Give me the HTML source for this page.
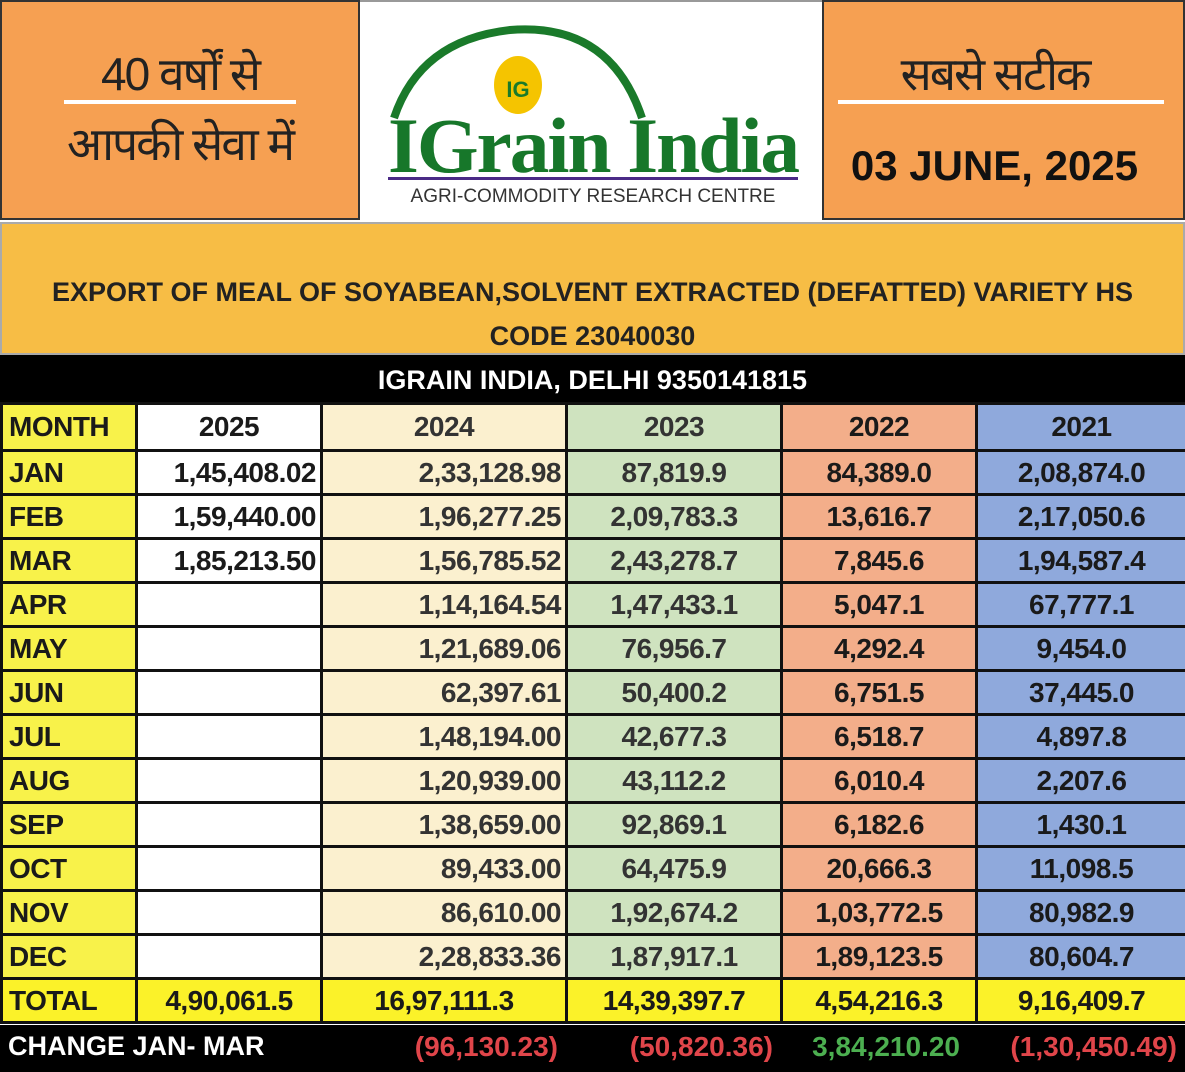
<!DOCTYPE html><html><head><meta charset="utf-8"><style>
body{margin:0;width:1185px;height:1072px;overflow:hidden;background:#fff;font-family:"Liberation Sans",sans-serif;position:relative}
.a{position:absolute}
table{position:absolute;left:0;top:402px;border-collapse:collapse;table-layout:fixed;width:1185px}
td{border:3px solid #111;height:41px;font-weight:bold;font-size:28px;padding:0 4px;white-space:nowrap;color:#1a1a1a;letter-spacing:-0.5px;box-sizing:border-box}
tr{height:44px}
tr.h{height:47px}
td.m{background:#f8f24a;text-align:left;padding-left:6px}
td.c5{background:#fff;text-align:right}
td.c4{background:#fbf0cf;text-align:right;color:#333}
td.c3{background:#cfe3bf;text-align:center;color:#333}
td.c2{background:#f3ae8a;text-align:center}
td.c1{background:#8fa9dc;text-align:center}
tr.h td{text-align:center}
tr.h td.m{text-align:left}
tr.t td{background:#fbf229;text-align:center}
tr.t td.m{text-align:left}
</style></head><body>
<div class="a" style="left:0;top:0;width:360px;height:220px;background:#f6a052;border:2px solid #333;box-sizing:border-box"></div>
<div class="a" style="left:360px;top:0;width:462px;height:220px;background:#fff;border-top:2px solid #999"></div>
<div class="a" style="left:822px;top:0;width:363px;height:220px;background:#f6a052;border:2px solid #333;box-sizing:border-box"></div>
<div class="a" style="left:60px;top:42px;width:240px;text-align:center;font-size:46px;color:#222;letter-spacing:-2px">40 वर्षों से</div>
<div class="a" style="left:64px;top:100px;width:232px;height:4px;background:#fff"></div>
<div class="a" style="left:55px;top:112px;width:250px;text-align:center;font-size:46px;color:#222;letter-spacing:-2px">आपकी सेवा में</div>
<div class="a" style="left:840px;top:42px;width:310px;text-align:center;font-size:46px;color:#222;letter-spacing:-2px">सबसे सटीक</div>
<div class="a" style="left:838px;top:100px;width:326px;height:4px;background:#fff"></div>
<div class="a" style="left:822px;top:142px;width:345px;text-align:center;font-size:42px;font-weight:bold;color:#111">03 JUNE, 2025</div>
<svg class="a" style="left:360px;top:0" width="462" height="220"><path d="M34 118 Q60 40 150 30 Q250 22 282 118" fill="none" stroke="#1a7a2a" stroke-width="8"/><ellipse cx="158" cy="85" rx="24" ry="29" fill="#f5c400"/><text x="158" y="97" text-anchor="middle" font-size="22" font-weight="bold" fill="#1a7a2a" font-family="Liberation Sans">IG</text>
<text x="233" y="172" text-anchor="middle" font-size="78" font-weight="bold" fill="#17772a" font-family="Liberation Serif" letter-spacing="-2" textLength="410" lengthAdjust="spacingAndGlyphs">IGrain India</text>
<rect x="28" y="177" width="410" height="3" fill="#4a2a86"/>
<text x="233" y="202" text-anchor="middle" font-size="19" fill="#333" font-family="Liberation Sans">AGRI-COMMODITY RESEARCH CENTRE</text></svg>
<div class="a" style="left:0;top:222px;width:1185px;height:133px;background:#f7bd45;border:2px solid #aaa;box-sizing:border-box"></div>
<div class="a" style="left:0;top:270px;width:1185px;text-align:center;font-size:27px;font-weight:bold;color:#222;line-height:44px">EXPORT OF MEAL OF SOYABEAN,SOLVENT EXTRACTED (DEFATTED) VARIETY HS<br>CODE 23040030</div>
<div class="a" style="left:0;top:355px;width:1185px;height:48px;background:#000;color:#fff;font-size:27px;font-weight:bold;text-align:center;line-height:50px">IGRAIN INDIA, DELHI 9350141815</div>
<table><colgroup><col style="width:135px"><col style="width:185px"><col style="width:245px"><col style="width:215px"><col style="width:195px"><col style="width:210px"></colgroup>
<tr class="h"><td class="m">MONTH</td><td class="c5">2025</td><td class="c4">2024</td><td class="c3">2023</td><td class="c2">2022</td><td class="c1">2021</td></tr>
<tr><td class="m">JAN</td><td class="c5">1,45,408.02</td><td class="c4">2,33,128.98</td><td class="c3">87,819.9</td><td class="c2">84,389.0</td><td class="c1">2,08,874.0</td></tr>
<tr><td class="m">FEB</td><td class="c5">1,59,440.00</td><td class="c4">1,96,277.25</td><td class="c3">2,09,783.3</td><td class="c2">13,616.7</td><td class="c1">2,17,050.6</td></tr>
<tr><td class="m">MAR</td><td class="c5">1,85,213.50</td><td class="c4">1,56,785.52</td><td class="c3">2,43,278.7</td><td class="c2">7,845.6</td><td class="c1">1,94,587.4</td></tr>
<tr><td class="m">APR</td><td class="c5"></td><td class="c4">1,14,164.54</td><td class="c3">1,47,433.1</td><td class="c2">5,047.1</td><td class="c1">67,777.1</td></tr>
<tr><td class="m">MAY</td><td class="c5"></td><td class="c4">1,21,689.06</td><td class="c3">76,956.7</td><td class="c2">4,292.4</td><td class="c1">9,454.0</td></tr>
<tr><td class="m">JUN</td><td class="c5"></td><td class="c4">62,397.61</td><td class="c3">50,400.2</td><td class="c2">6,751.5</td><td class="c1">37,445.0</td></tr>
<tr><td class="m">JUL</td><td class="c5"></td><td class="c4">1,48,194.00</td><td class="c3">42,677.3</td><td class="c2">6,518.7</td><td class="c1">4,897.8</td></tr>
<tr><td class="m">AUG</td><td class="c5"></td><td class="c4">1,20,939.00</td><td class="c3">43,112.2</td><td class="c2">6,010.4</td><td class="c1">2,207.6</td></tr>
<tr><td class="m">SEP</td><td class="c5"></td><td class="c4">1,38,659.00</td><td class="c3">92,869.1</td><td class="c2">6,182.6</td><td class="c1">1,430.1</td></tr>
<tr><td class="m">OCT</td><td class="c5"></td><td class="c4">89,433.00</td><td class="c3">64,475.9</td><td class="c2">20,666.3</td><td class="c1">11,098.5</td></tr>
<tr><td class="m">NOV</td><td class="c5"></td><td class="c4">86,610.00</td><td class="c3">1,92,674.2</td><td class="c2">1,03,772.5</td><td class="c1">80,982.9</td></tr>
<tr><td class="m">DEC</td><td class="c5"></td><td class="c4">2,28,833.36</td><td class="c3">1,87,917.1</td><td class="c2">1,89,123.5</td><td class="c1">80,604.7</td></tr>
<tr class="t"><td class="m">TOTAL</td><td>4,90,061.5</td><td>16,97,111.3</td><td>14,39,397.7</td><td>4,54,216.3</td><td>9,16,409.7</td></tr>
</table>
<div class="a" style="left:0;top:1025px;width:1185px;height:47px;background:#000"></div>
<div class="a" style="left:8px;top:1031px;font-size:27px;font-weight:bold;color:#fff">CHANGE JAN- MAR</div>
<div class="a" style="left:320px;top:1031px;width:238px;text-align:right;font-size:28px;font-weight:bold;color:#e0454a">(96,130.23)</div>
<div class="a" style="left:565px;top:1031px;width:208px;text-align:right;font-size:28px;font-weight:bold;color:#e0454a">(50,820.36)</div>
<div class="a" style="left:780px;top:1031px;width:180px;text-align:right;font-size:28px;font-weight:bold;color:#4caf50">3,84,210.20</div>
<div class="a" style="left:975px;top:1031px;width:202px;text-align:right;font-size:28px;font-weight:bold;color:#e0454a">(1,30,450.49)</div>
</body></html>
